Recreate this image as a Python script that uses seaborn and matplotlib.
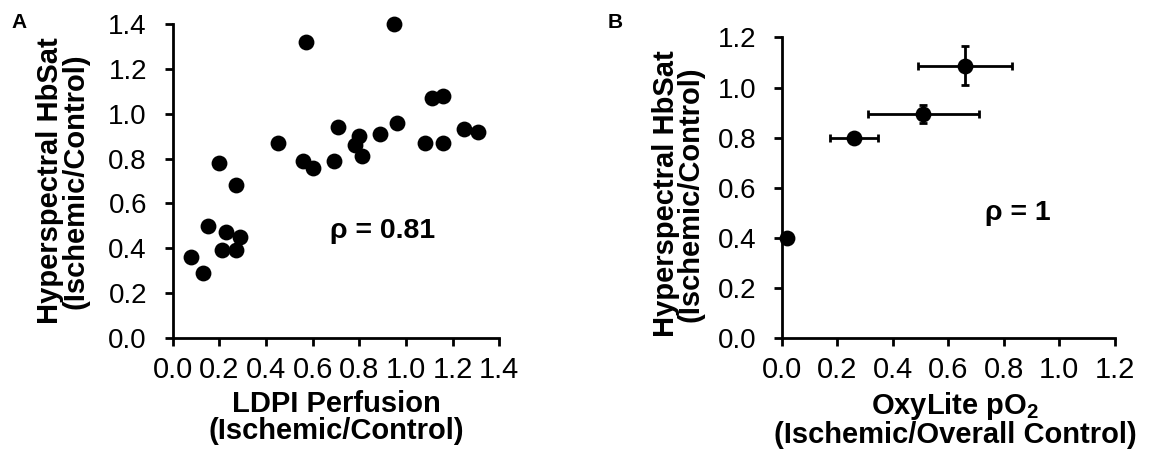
import numpy as np
import pandas as pd
import matplotlib
matplotlib.use("Agg")
import matplotlib.pyplot as plt
import seaborn as sns

# Panel A data: LDPI perfusion vs hyperspectral HbSat
ldpi = [0.08, 0.13, 0.15, 0.20, 0.21, 0.23, 0.27, 0.27, 0.29, 0.45, 0.57, 0.56, 0.60,
        0.69, 0.71, 0.78, 0.80, 0.81, 0.89, 0.95, 0.96, 1.08, 1.11, 1.16, 1.16, 1.25, 1.31]
hbsat_a = [0.36, 0.29, 0.50, 0.78, 0.39, 0.47, 0.68, 0.39, 0.45, 0.87, 1.32, 0.79, 0.76,
           0.79, 0.94, 0.86, 0.90, 0.81, 0.91, 1.40, 0.96, 0.87, 1.07, 1.08, 0.87, 0.93, 0.92]

# Panel B data: OxyLite pO2 vs hyperspectral HbSat (mean +/- error)
oxylite = [0.02, 0.26, 0.51, 0.66]
oxylite_err = [0.0, 0.087, 0.199, 0.169]
hbsat_b = [0.40, 0.80, 0.895, 1.087]
hbsat_b_err = [0.0, 0.02, 0.035, 0.077]

ticks_a = [0.0, 0.2, 0.4, 0.6, 0.8, 1.0, 1.2, 1.4]
ticks_b = [0.0, 0.2, 0.4, 0.6, 0.8, 1.0, 1.2]

sns.set_theme(style="ticks")
plt.rcParams['font.family'] = ['Liberation Sans', 'DejaVu Sans']
plt.rcParams['mathtext.fontset'] = 'custom'
plt.rcParams['mathtext.rm'] = 'Liberation Sans:bold'
plt.rcParams['mathtext.bf'] = 'Liberation Sans:bold'
plt.rcParams['mathtext.default'] = 'rm'
plt.rcParams['text.color'] = 'black'
plt.rcParams['axes.labelcolor'] = 'black'

fig = plt.figure(figsize=(11.52, 4.57), dpi=100)
axA = fig.add_axes([0.1499, 0.2611, 0.2835, 0.6858])
axB = fig.add_axes([0.6786, 0.2597, 0.2891, 0.6586])

XTFS = 21
YTFS = 20
LFS = 21

dfA = pd.DataFrame({"x": ldpi, "y": hbsat_a})
sns.scatterplot(data=dfA, x="x", y="y", ax=axA, color="black", s=130,
                edgecolor="black", linewidth=0, zorder=3, clip_on=False)

dfB = pd.DataFrame({"x": oxylite, "y": hbsat_b})
axB.errorbar(oxylite, hbsat_b, xerr=oxylite_err, yerr=hbsat_b_err, fmt="none",
             ecolor="black", elinewidth=2, capsize=3, capthick=2, zorder=2, clip_on=False)
sns.scatterplot(data=dfB, x="x", y="y", ax=axB, color="black", s=130,
                edgecolor="black", linewidth=0, zorder=3, clip_on=False)

for ax, tk in ((axA, ticks_a), (axB, ticks_b)):
    ax.set_xlim(tk[0], tk[-1])
    ax.set_ylim(tk[0], tk[-1])
    ax.set_xticks(tk)
    ax.set_yticks(tk)
    ax.set_xticklabels([f"{t:.1f}" for t in tk])
    ax.set_yticklabels([f"{t:.1f}" for t in tk])
    for side in ("top", "right"):
        ax.spines[side].set_visible(False)
    for side in ("left", "bottom"):
        ax.spines[side].set_linewidth(2)
        ax.spines[side].set_color("black")
    ax.tick_params(axis="x", direction="out", length=6, width=2, color="black",
                   labelsize=XTFS, labelcolor="black", pad=7)
    ax.tick_params(axis="y", direction="out", length=6, width=2, color="black",
                   labelsize=YTFS, labelcolor="black", pad=12.5)
    ax.set_ylabel("Hyperspectral HbSat\n(Ischemic/Control)", fontsize=LFS,
                  fontweight="bold", linespacing=0.85)

axA.yaxis.set_label_coords(-0.256, 0.5)
axB.yaxis.set_label_coords(-0.232, 0.48)

axA.set_xlabel("LDPI Perfusion\n(Ischemic/Control)", fontsize=LFS, fontweight="bold",
               linespacing=0.95)
axB.set_xlabel("OxyLite pO$_2$\n(Ischemic/Overall Control)", fontsize=LFS,
               fontweight="bold", linespacing=0.95)
axA.xaxis.set_label_coords(0.5, -0.168)
axB.xaxis.set_label_coords(0.52, -0.172)

axA.text(0.9, 0.477, "ρ = 0.81", fontsize=20.5, fontweight="bold", ha="center", va="center")
axB.text(0.852, 0.5, "ρ = 1", fontsize=20.5, fontweight="bold", ha="center", va="center")

fig.text(19 / 1152, 1 - 23 / 457, "A", fontsize=15, fontweight="bold", ha="center", va="center")
fig.text(615 / 1152, 1 - 22 / 457, "B", fontsize=15, fontweight="bold", ha="center", va="center")

fig.savefig("out.png", dpi=100, facecolor="white")
